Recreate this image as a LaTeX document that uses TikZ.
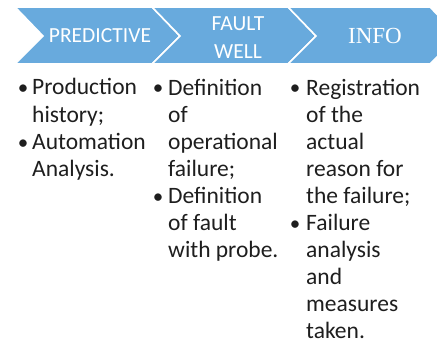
\documentclass[tikz,border=0pt]{standalone}
\usepackage{fontspec}
\setmainfont{Carlito}
\newfontfamily\serifhd{Liberation Serif}
\usepackage{xcolor}
\usetikzlibrary{positioning}
\definecolor{chevblue}{RGB}{104,170,221}
\definecolor{bodytext}{RGB}{30,30,30}

\begin{document}
\begin{tikzpicture}[x=1pt,y=-1pt,
  chev/.style={fill=chevblue,draw=white,line width=1.6pt,line join=miter},
  hd/.style={text=white,align=center,inner sep=0pt,font=\fontsize{21.5}{28}\selectfont},
  itm/.style={anchor=base west,align=left,inner sep=0pt,text=bodytext,font=\fontsize{23.5}{27.1}\selectfont},
  bul/.style={anchor=base,inner sep=0pt,text=bodytext,font=\fontsize{21}{27.1}\selectfont}]
\useasboundingbox (0,0) rectangle (437,345);
% chevron band
\path[chev] (15,7) -- (152,7) -- (180,36) -- (152,64) -- (15,64) -- (43,36) -- cycle;
\path[chev] (152,7) -- (288,7) -- (316,36) -- (288,64) -- (152,64) -- (180,36) -- cycle;
\path[chev] (288,7) -- (430,7) -- (458,36) -- (430,64) -- (288,64) -- (316,36) -- cycle;
\node[hd] (pred) at (100,36) {PREDICTIVE};
\node[hd] (fw) at (238,38) {FAULT\\WELL};
\node[hd,font=\fontsize{23}{28}\serifhd] (info) at (375,36) {INFO};
% bullet lists (base anchor sits on the last line)
\node[bul] (b1) at (23,95) {•};
\node[itm] (p1) at (32,122.1) {Production\\history;};
\node[bul] (b2) at (23,149.2) {•};
\node[itm] (p2) at (32,176.3) {Automation\\Analysis.};
\node[bul] (b3) at (158,95) {•};
\node[itm] (f1) at (168,176.3) {Definition\\of\\operational\\failure;};
\node[bul] (b4) at (158,203.4) {•};
\node[itm] (f2) at (168,257.6) {Definition\\of fault\\with probe.};
\node[bul] (b5) at (295,95) {•};
\node[itm] (i1) at (306,203.4) {Registration\\of the\\actual\\reason for\\the failure;};
\node[bul] (b6) at (295,230.5) {•};
\node[itm] (i2) at (306,338.9) {Failure\\analysis\\and\\measures\\taken.};
\end{tikzpicture}
\end{document}
